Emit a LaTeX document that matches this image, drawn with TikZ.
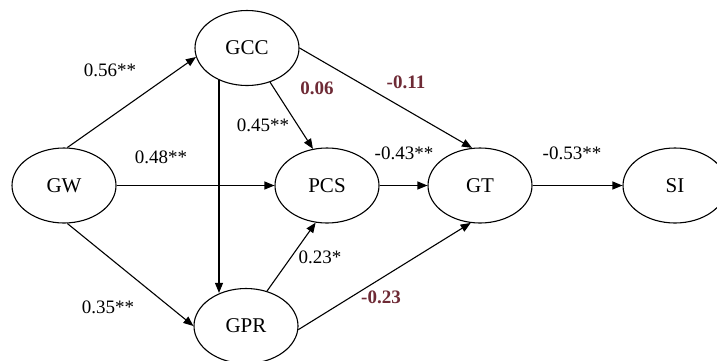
\documentclass[tikz,border=0pt]{standalone}
\usepackage{fontspec}
\setmainfont{Liberation Serif}
\usepackage{xcolor}
\usetikzlibrary{arrows.meta,
positioning,
shapes.geometric,
calc}

\definecolor{coefred}{HTML}{6E2A35}

\begin{document}
\begin{tikzpicture}[
				x=1pt, y=-1pt,
				construct/.style={
					draw,
					ellipse,
					minimum width=104pt,
					minimum height=75pt,
					inner sep=0pt,
					line width=1.1pt,
					font=\fontsize{21}{24}\selectfont
				},
				path/.style={
					-{Triangle[length=10pt,width=8pt]},
					line width=1.1pt
				},
				coef/.style={
					inner sep=1pt,
					font=\fontsize{19}{22}\selectfont
				},
				weak/.style={
					coef,
					text=coefred,
					font=\fontsize{19}{22}\selectfont\bfseries
				}
				]
				\clip (0,0) rectangle (717,360);
				
				\node[construct] (gw) at (64,185.5) {GW};
				\node[construct] (gcc) at (247,48) {GCC};
				\node[construct] (pcs) at (327,185.5) {PCS};
				\node[construct] (gpr) at (246,326) {GPR};
				\node[construct] (gt) at (480,185.5) {GT};
				\node[construct] (si) at (675,185.5) {SI};
				
				% paths
				\draw[path] (gw.85) -- (gcc.190);
				\draw[path] (gw.275) -- (gpr.west);
				\draw[path] (gw.east) -- (pcs.west);
				\draw[path] (gcc.229) -- (gcc.229 |- gpr.128);
				\draw[path] (gcc.304) -- (pcs.111);
				\draw[path] (gcc.east) -- (gt.102);
				\draw[path] (gpr.59) -- (pcs.253);
				\draw[path] (gpr.356) -- (gt.256);
				\draw[path] (pcs.east) -- (gt.west);
				\draw[path] (gt.east) -- (si.west);
				
				% coefficients
				\node[coef] (c56) at (110,70) {0.56**};
				\node[coef] (c48) at (161,157) {0.48**};
				\node[coef] (c35) at (108,307) {0.35**};
				\node[coef] (c45) at (263,125) {0.45**};
				\node[coef] (c23) at (320,257) {0.23*};
				\node[coef] (c43) at (404,153) {-0.43**};
				\node[coef] (c53) at (572,153) {-0.53**};
				\node[weak] (c06) at (317,88) {0.06};
				\node[weak] (c11) at (406,82) {-0.11};
				\node[weak] (c23n) at (381,297) {-0.23};
			\end{tikzpicture}
\end{document}
